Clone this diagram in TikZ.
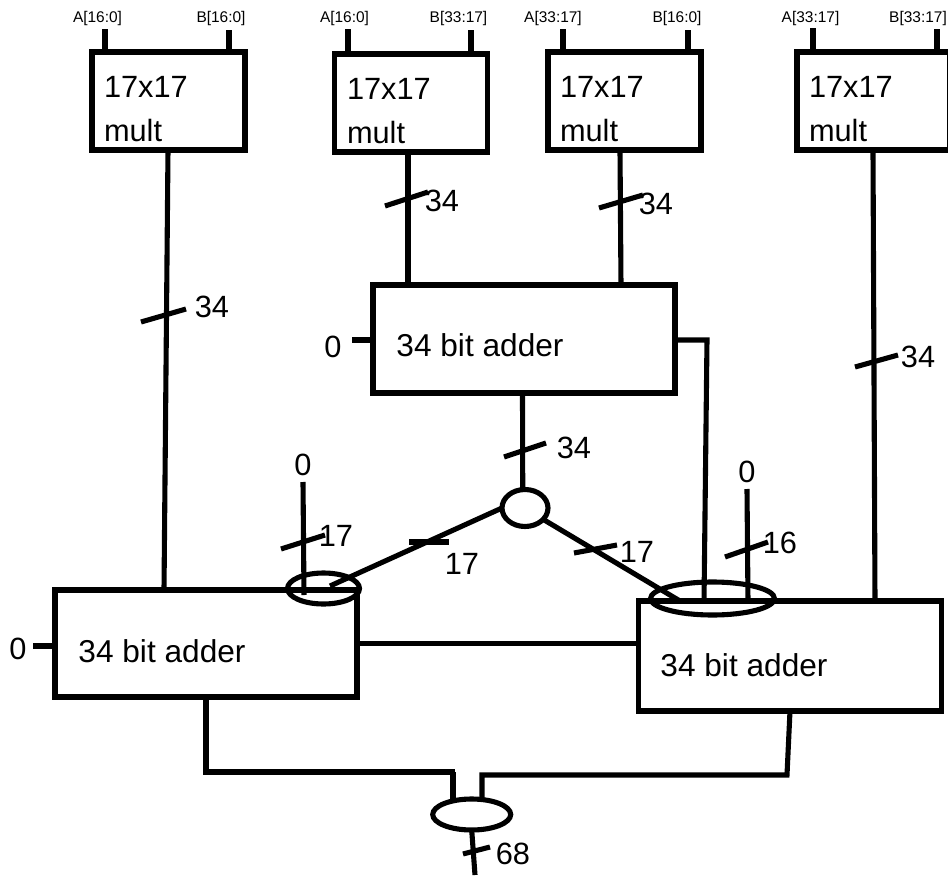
\documentclass[tikz,border=0pt]{standalone}
\usepackage{fontspec}
\setmainfont{Liberation Sans}
\usetikzlibrary{shapes.geometric}
\tikzset{every node/.append style={inner sep=0pt,outer sep=0pt}}
\tikzset{wire/.style={line width=2.9pt}}
\tikzset{tick/.style={line width=2.9pt}}
\tikzset{blockbox/.style={draw,rectangle,line width=3.1pt}}
\tikzset{multbox/.style={blockbox,minimum width=3.06cm,minimum height=1.96cm}}
\tikzset{addbox/.style={blockbox,minimum width=6.04cm}}
\tikzset{joinring/.style={draw,ellipse,line width=2.9pt}}
\tikzset{bigtext/.style={font=\fontsize{17.5}{25}\selectfont}}
\tikzset{addtext/.style={font=\fontsize{18}{25}\selectfont}}
\tikzset{multtext/.style={font=\fontsize{17.5}{25}\selectfont,align=left,anchor=west}}
\tikzset{pinname/.style={font=\fontsize{8.8}{10}\selectfont}}

\begin{document}
\begin{tikzpicture}[x=0.02cm,y=-0.02cm]
\useasboundingbox (0,0) rectangle (948,876);

\node (multa) [multbox] at (168.5,101) {};
\node (multb) [multbox] at (411,103) {};
\node (multc) [multbox] at (624.5,101) {};
\node (multd) [multbox] at (873.5,101) {};
\node (addm) [addbox,minimum height=2.16cm] at (524,339) {};
\node (addl) [addbox,minimum height=2.14cm] at (206,643.5) {};
\node (addr) [addbox,minimum width=6.06cm,minimum height=2.2cm] at (790,656) {};

\node (multatext) [multtext] at (104,109.5) {17x17\\mult};
\node (multbtext) [multtext] at (347,111) {17x17\\mult};
\node (multctext) [multtext] at (560,109.5) {17x17\\mult};
\node (multdtext) [multtext] at (809,109.5) {17x17\\mult};
\node (addmtext) [addtext] at (480,345) {34 bit adder};
\node (addltext) [addtext] at (162,651) {34 bit adder};
\node (addrtext) [addtext] at (744,665) {34 bit adder};

\node (aa) [pinname] at (97.5,18.5) {A[16:0]};
\node (ab) [pinname] at (221,18.5) {B[16:0]};
\node (ba) [pinname] at (344.5,18.5) {A[16:0]};
\node (bb) [pinname] at (458.5,18.5) {B[33:17]};
\node (ca) [pinname] at (553,18.5) {A[33:17]};
\node (cb) [pinname] at (677,18.5) {B[16:0]};
\node (da) [pinname] at (810.5,18.5) {A[33:17]};
\node (db) [pinname] at (918,18.5) {B[33:17]};

\coordinate (paa) at (105,29);
\coordinate (pab) at (229,30);
\coordinate (pba) at (348,29);
\coordinate (pbb) at (471,30);
\coordinate (pca) at (563,29);
\coordinate (pcb) at (688,30);
\coordinate (pda) at (813,28);
\coordinate (pdb) at (937,29);
\draw [wire] (paa) -- (paa |- multa.north);
\draw [wire] (pab) -- (pab |- multa.north);
\draw [wire] (pba) -- (pba |- multb.north);
\draw [wire] (pbb) -- (pbb |- multb.north);
\draw [wire] (pca) -- (pca |- multc.north);
\draw [wire] (pcb) -- (pcb |- multc.north);
\draw [wire] (pda) -- (pda |- multd.north);
\draw [wire] (pdb) -- (pdb |- multd.north);

\node (split) [joinring,minimum width=0.92cm,minimum height=0.74cm] at (525,508) {};
\node (ringl) [joinring,minimum width=1.44cm,minimum height=0.62cm] at (323.5,588.5) {};
\node (ringr) [joinring,minimum width=2.48cm,minimum height=0.66cm] at (712.5,598.5) {};
\node (ringo) [joinring,minimum width=1.56cm,minimum height=0.62cm] at (471.7,814.5) {};

\coordinate (wa) at (168,150);
\coordinate (wal) at (164,590);
\coordinate (wb) at (408,152);
\coordinate (wc) at (620,150);
\coordinate (wcm) at (621,285);
\coordinate (wd) at (873,150);
\coordinate (wdr) at (875,601);
\draw [wire] (wa) -- (wal);
\draw [wire] (wb) -- (wb |- addm.north);
\draw [wire] (wc) -- (wcm);
\draw [wire] (wd) -- (wdr);

\coordinate (cmb) at (707,340);
\coordinate (cmr) at (704,603);
\draw [wire] (cmb -| addm.east) -- (cmb) -- (cmr);
\coordinate (zm) at (352,340);
\draw [wire] (zm) -- (zm -| addm.west);
\coordinate (zl) at (33,646);
\draw [wire] (zl) -- (zl -| addl.west);
\coordinate (sm) at (522.5,393);
\draw [wire] (sm) -- (split.97);
\coordinate (sl) at (330,586);
\draw [wire] (split.west) -- (sl);
\coordinate (sr) at (680,601);
\draw [wire] (split.-32) -- (sr);
\coordinate (zla) at (303,482);
\coordinate (zlb) at (304,595);
\draw [wire] (zla) -- (zlb);
\coordinate (zra) at (747,489);
\coordinate (zrb) at (748,601);
\draw [wire] (zra) -- (zrb);
\draw [wire] (addl.east) -- (addl.east -| addr.west);

\coordinate (ola) at (206,697);
\coordinate (olb) at (206,772);
\coordinate (olc) at (455,772);
\coordinate (old) at (453,772);
\coordinate (ole) at (453,801);
\coordinate (ora) at (790,711);
\coordinate (orb) at (787,775);
\coordinate (orc) at (482,775);
\coordinate (ord) at (482,801);
\draw [wire] (ola) -- (olb) -- (olc);
\draw [wire] (old) -- (ole);
\draw [wire] (ora) -- (orb) -- (orc) -- (ord);
\coordinate (oe) at (475,875);
\draw [wire] (ringo.south) -- (oe);

\draw [tick] (141,322) -- (186,309);
\draw [tick] (385,206) -- (428,192);
\draw [tick] (599,208) -- (643,195);
\draw [tick] (855,367) -- (898,355);
\draw [tick] (504,457) -- (546,443);
\draw [tick] (409,542) -- (449,542);
\draw [tick] (574,553) -- (617,545);
\draw [tick] (281,549) -- (325,535);
\draw [tick] (725,557) -- (768,542);
\draw [tick] (463,854) -- (490,847);

\node (wlaa) [bigtext] at (212,307) {34};
\node (wlb) [bigtext] at (442,201) {34};
\node (wlc) [bigtext] at (656,204) {34};
\node (wld) [bigtext] at (918,357) {34};
\node (wls) [bigtext] at (574,448) {34};
\node (wll) [bigtext] at (462,564) {17};
\node (wlr) [bigtext] at (637,552) {17};
\node (wlz) [bigtext] at (336,536) {17};
\node (wlq) [bigtext] at (780,543) {16};
\node (wlo) [bigtext] at (513,854) {68};
\node (zerom) [bigtext] at (333,347) {0};
\node (zerol) [bigtext] at (18,649) {0};
\node (zeroa) [bigtext] at (303,465) {0};
\node (zerob) [bigtext] at (747,472) {0};
\end{tikzpicture}
\end{document}
